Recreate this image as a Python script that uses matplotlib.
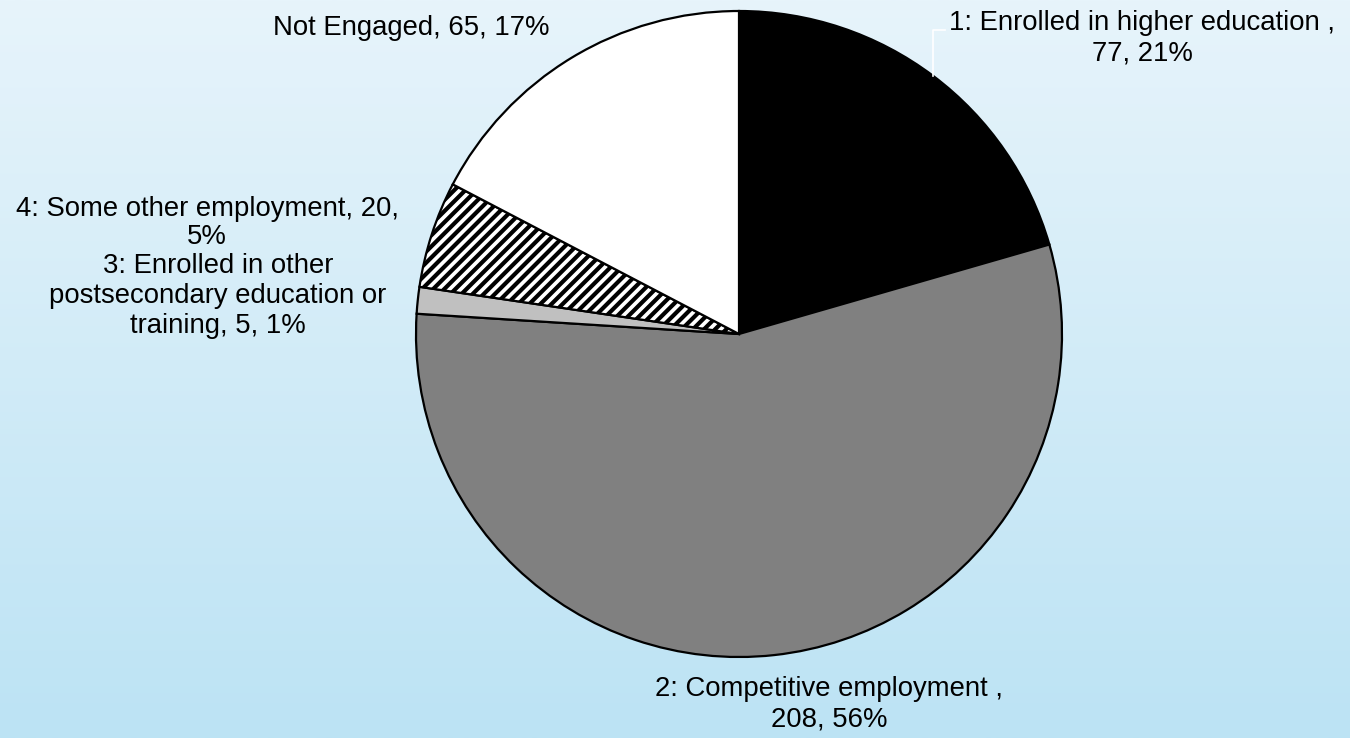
import numpy as np
import matplotlib
matplotlib.use('agg')
import matplotlib.pyplot as plt

# outcome categories and counts
names = ['1: Enrolled in higher education',
         '2: Competitive employment',
         '3: Enrolled in other postsecondary education or training',
         '4: Some other employment',
         'Not Engaged']
counts = [77, 208, 5, 20, 65]
percents = [21, 56, 1, 5, 17]

colors = ['black', '#808080', '#c0c0c0', 'white', 'white']
hatches = [None, None, None, '///', None]

W, H = 1350, 738

plt.rcParams['font.family'] = ['Liberation Sans', 'DejaVu Sans']
plt.rcParams['hatch.linewidth'] = 3.0
plt.rcParams['hatch.color'] = 'black'

fig = plt.figure(figsize=(13.5, 7.38), dpi=100)

# light blue vertical gradient behind everything
bg = fig.add_axes([0, 0, 1, 1])
g = np.linspace(0, 1, 256)[:, None, None]
top = np.array([0xe7, 0xf4, 0xfb]) / 255.0
bot = np.array([0xbc, 0xe3, 0xf4]) / 255.0
bg.imshow(top + (bot - top) * g, aspect='auto', extent=[0, 1, 0, 1])
bg.axis('off')

ax = fig.add_axes([0, 0, 1, 1])
ax.patch.set_alpha(0)

cx, cy, r = 739, H - 334, 323
wedges, _ = ax.pie(counts, colors=colors, startangle=90, counterclock=False,
                   center=(cx, cy), radius=r,
                   wedgeprops=dict(edgecolor='black', linewidth=1.6))
for w, h in zip(wedges, hatches):
    if h:
        w.set_hatch(h)

ax.set_xlim(0, W)
ax.set_ylim(0, H)
ax.set_aspect('equal')
ax.axis('off')

# leader line for the first slice
w0 = wedges[0]
mid = np.deg2rad((w0.theta1 + w0.theta2) / 2)
ex, ey = cx + r * np.cos(mid), cy + r * np.sin(mid)
ax.plot([ex, ex, ex + 12], [ey, H - 30, H - 30], color='white', lw=1.2)

fs = 19.8
labels = [
    f'{names[0]} ,\n{counts[0]}, {percents[0]}%',
    f'{names[1]} ,\n{counts[1]}, {percents[1]}%',
    f'3: Enrolled in other\npostsecondary education or\ntraining, {counts[2]}, {percents[2]}%',
    f'{names[3]}, {counts[3]},\n{percents[3]}%',
    f'{names[4]}, {counts[4]}, {percents[4]}%',
]
spots = [(1142, 38), (829, 704), (218, 296), (207, 223), (411, 28)]
spacing = [1.25, 1.2, 1.2, 1.12, 1.2]
for text, (x, y), ls in zip(labels, spots, spacing):
    ax.text(x, H - y, text, ha='center', va='center', fontsize=fs,
            linespacing=ls, color='black')

fig.savefig('out.png', dpi=100)
